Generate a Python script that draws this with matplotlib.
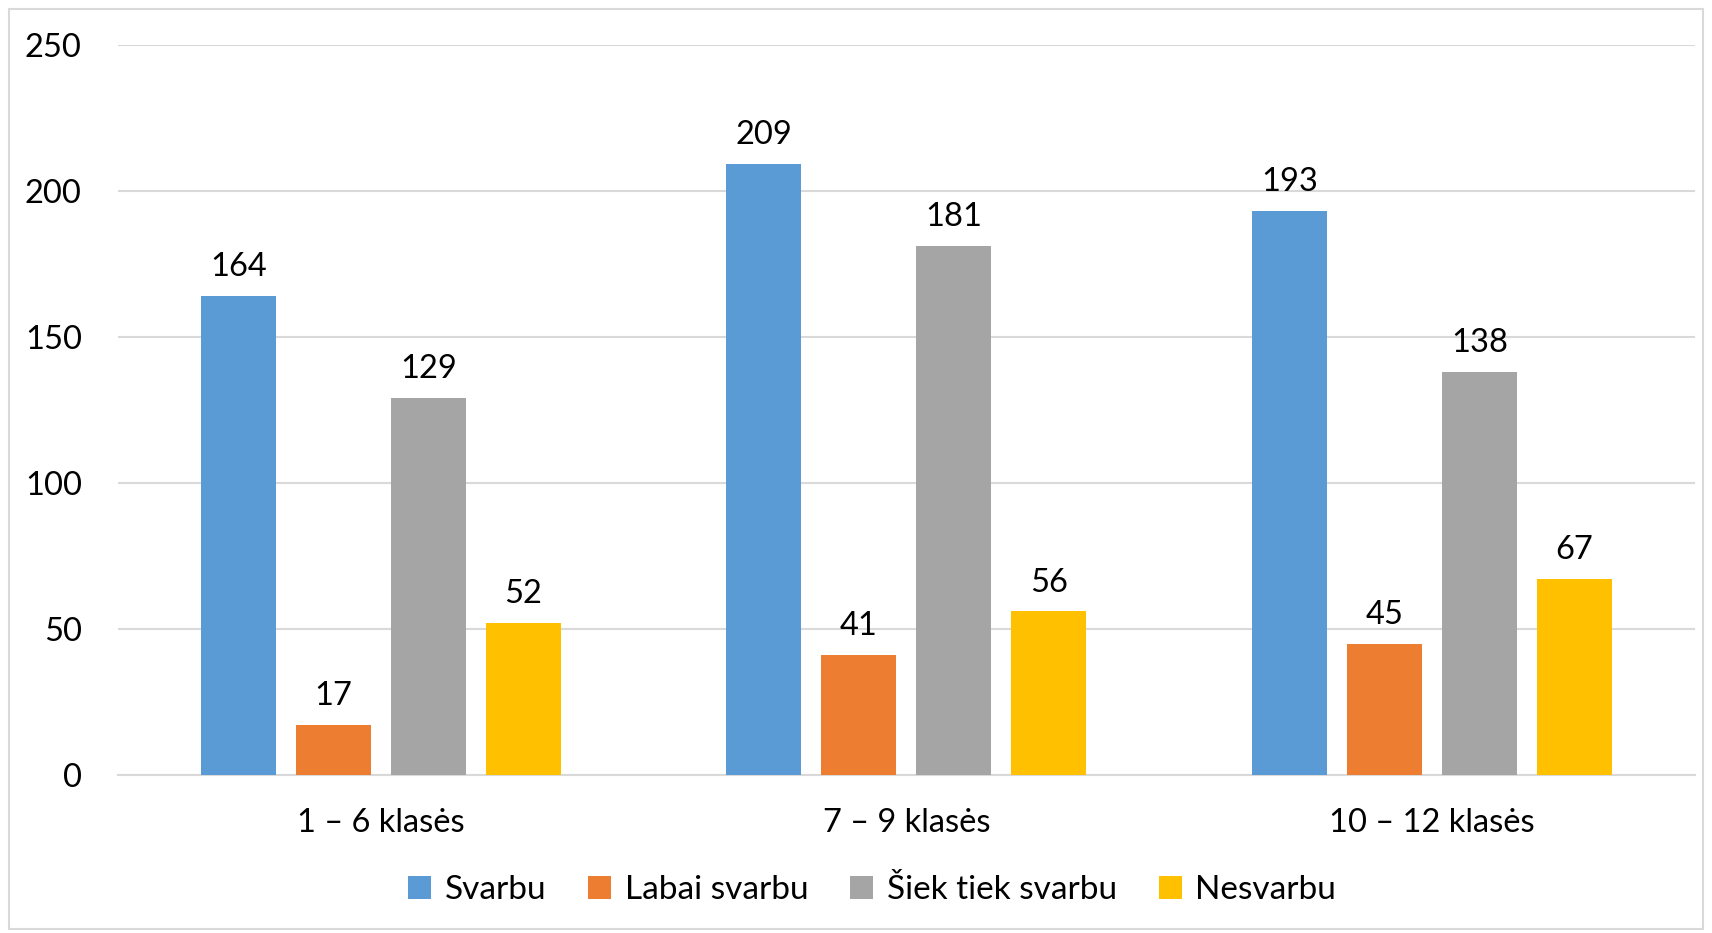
import matplotlib.pyplot as plt
from matplotlib.patches import Rectangle, Patch
import numpy as np

plt.rcParams['font.family'] = ['Lato', 'DejaVu Sans']

# data
categories = ['1 – 6 klasės', '7 – 9 klasės', '10 – 12 klasės']
series_names = ['Svarbu', 'Labai svarbu', 'Šiek tiek svarbu', 'Nesvarbu']
svarbu = [164, 209, 193]
labai_svarbu = [17, 41, 45]
siek_tiek = [129, 181, 138]
nesvarbu = [52, 56, 67]
colors = ['#5B9BD5', '#ED7D31', '#A5A5A5', '#FFC000']

series = [svarbu, labai_svarbu, siek_tiek, nesvarbu]

fig = plt.figure(figsize=(17.12, 9.33), dpi=100)
ax = fig.add_axes([0.0689, 0.1693, 0.9211, 0.7830])

# outer frame like the office chart
fig.patches.append(Rectangle((9 / 1712, 4 / 933), 1694 / 1712, 920 / 933,
                             transform=fig.transFigure, fill=False,
                             edgecolor='#d9d9d9', lw=1.5))

x = np.arange(len(categories))
step = 0.1807
width = 0.1427
for i, (vals, col) in enumerate(zip(series, colors)):
    pos = x + (i - 1.5) * step
    bars = ax.bar(pos, vals, width=width, color=col, zorder=3)
    for b, v in zip(bars, vals):
        ax.annotate(str(v), (b.get_x() + b.get_width() / 2, v),
                    xytext=(0, 10), textcoords='offset points',
                    ha='center', va='bottom', fontsize=23.5, color='black')

ax.set_xlim(-0.5, 2.5)
ax.set_ylim(0, 250)
ax.set_yticks([0, 50, 100, 150, 200, 250])
ax.yaxis.grid(True, color='#d9d9d9', lw=1.5, zorder=0)
ax.set_xticks(x)
ax.set_xticklabels(categories)
ax.tick_params(axis='both', length=0, labelsize=23.5)
ax.tick_params(axis='y', pad=26)
ax.tick_params(axis='x', pad=24)
for s in ['top', 'right', 'left']:
    ax.spines[s].set_visible(False)
ax.spines['bottom'].set_color('#d9d9d9')
ax.spines['bottom'].set_linewidth(1.5)

handles = [Patch(facecolor=c, label=n) for c, n in zip(colors, series_names)]
fig.legend(handles=handles, loc='center', bbox_to_anchor=(0.5094, 1 - 890 / 933),
           ncol=4, frameon=False, fontsize=24, handlelength=0.7,
           handleheight=0.7, handletextpad=0.4, columnspacing=1.25)

fig.savefig('out.png', dpi=100)
